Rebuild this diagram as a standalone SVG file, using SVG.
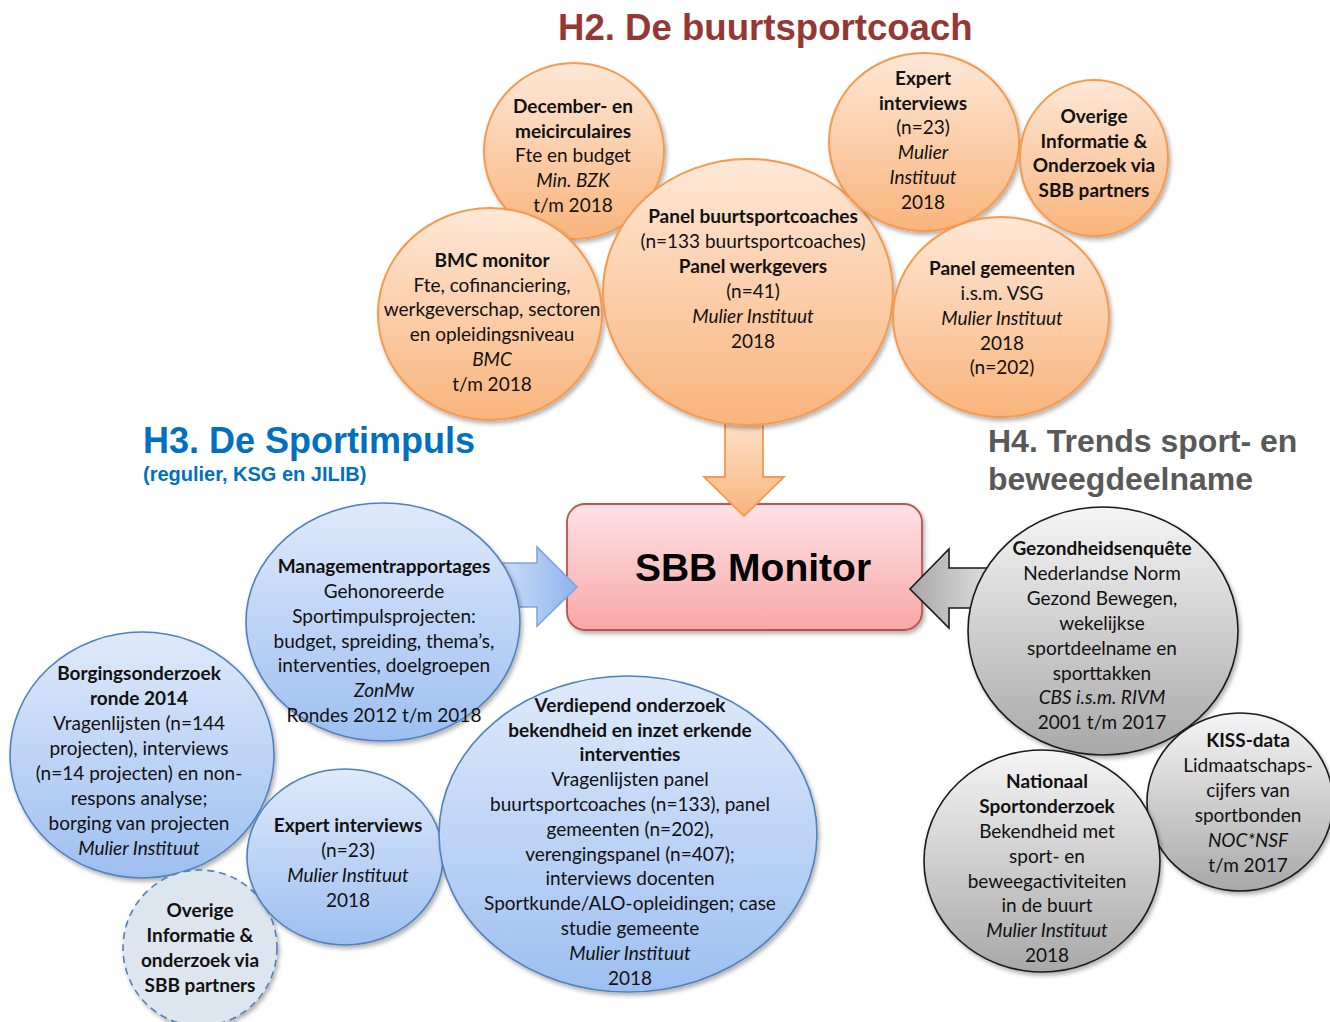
<svg xmlns="http://www.w3.org/2000/svg" width="1330" height="1022" viewBox="0 0 1330 1022">
<defs>
<linearGradient id="gO" x1="0" y1="0" x2="0" y2="1"><stop offset="0" stop-color="#fee8d7"/><stop offset="1" stop-color="#f9b47c"/></linearGradient>
<linearGradient id="gB" x1="0" y1="0" x2="0" y2="1"><stop offset="0" stop-color="#dfeafb"/><stop offset="1" stop-color="#9dbff0"/></linearGradient>
<linearGradient id="gG" x1="0" y1="0" x2="0" y2="1"><stop offset="0" stop-color="#f5f5f5"/><stop offset="1" stop-color="#a8a8a8"/></linearGradient>
<linearGradient id="gR" x1="0" y1="0" x2="0" y2="1"><stop offset="0" stop-color="#fde3e6"/><stop offset="1" stop-color="#f9a6a6"/></linearGradient>
<linearGradient id="gBA" x1="0" y1="0" x2="1" y2="0"><stop offset="0" stop-color="#dfeafb"/><stop offset="1" stop-color="#8db3ee"/></linearGradient>
<linearGradient id="gGA" x1="1" y1="0" x2="0" y2="0"><stop offset="0" stop-color="#e6e6e6"/><stop offset="1" stop-color="#a6a6a6"/></linearGradient>
<filter id="sh" x="-10%" y="-10%" width="125%" height="125%"><feDropShadow dx="2" dy="3" stdDeviation="2" flood-color="#000" flood-opacity="0.3"/></filter>
<style>
.t{font-family:Lato,"Liberation Sans",sans-serif;font-size:19px;text-anchor:middle;fill:#111}
.b{font-weight:bold}
.i{font-style:italic}
.o{fill:url(#gO);stroke:#f59a4f;stroke-width:2;filter:url(#sh)}
.bl{fill:url(#gB);stroke:#4f81bd;stroke-width:1.6;filter:url(#sh)}
.gr{fill:url(#gG);stroke:#1a1a1a;stroke-width:1.6;filter:url(#sh)}
.h{font-family:"Liberation Sans",Arial,sans-serif;font-weight:bold}
</style>
</defs>
<rect width="1330" height="1022" fill="#fff"/>

<g id="headings">
<text class="h" x="558" y="40" font-size="36.6" fill="#953735">H2. De buurtsportcoach</text>
<text class="h" x="143" y="453" font-size="36" fill="#0070c0">H3. De Sportimpuls</text>
<text class="h" x="143" y="481" font-size="20" fill="#0070c0">(regulier, KSG en JILIB)</text>
<text class="h" x="988" y="452" font-size="32" fill="#595959">H4. Trends sport- en</text>
<text class="h" x="988" y="490" font-size="32" fill="#595959">beweegdeelname</text>
</g>

<g id="sbb-monitor">
<rect x="567" y="504" width="355" height="126" rx="18" fill="url(#gR)" stroke="#c0504d" stroke-width="1.8" filter="url(#sh)"/>
<text class="h" x="753" y="581" font-size="39" text-anchor="middle" fill="#000">SBB Monitor</text>
</g>

<g id="connectors">
<path d="M725,405 L763,405 L763,477 L784,477 L744,516 L704,477 L725,477 Z" fill="url(#gO)" stroke="#f59a4f" stroke-width="1.8"/>
<path d="M480,563 L537,563 L537,547 L577,587 L537,626 L537,607 L480,607 Z" fill="url(#gBA)" stroke="#7ea6de" stroke-width="1.6"/>
<path d="M1000,568 L949,568 L949,549 L910,589 L949,628 L949,608 L1000,608 Z" fill="url(#gGA)" stroke="#1a1a1a" stroke-width="1.6"/>
</g>

<g id="n-december">
<ellipse class="o" cx="574" cy="151" rx="90" ry="88"/>
<text class="t"><tspan class="b" x="573" y="113">December- en</tspan><tspan class="b" x="573" y="138">meicirculaires</tspan><tspan x="573" y="162">Fte en budget</tspan><tspan class="i" x="573" y="187">Min. BZK</tspan><tspan x="573" y="212">t/m 2018</tspan></text>
</g>

<g id="n-bmc">
<ellipse class="o" cx="490" cy="314" rx="112" ry="106"/>
<text class="t"><tspan class="b" x="492" y="267">BMC monitor</tspan><tspan x="492" y="292">Fte, cofinanciering,</tspan><tspan x="492" y="316">werkgeverschap, sectoren</tspan><tspan x="492" y="341">en opleidingsniveau</tspan><tspan class="i" x="492" y="366">BMC</tspan><tspan x="492" y="391">t/m 2018</tspan></text>
</g>

<g id="n-panel-bsc">
<ellipse class="o" cx="748" cy="292" rx="145" ry="133"/>
<text class="t"><tspan class="b" x="753" y="223">Panel buurtsportcoaches</tspan><tspan x="753" y="248">(n=133 buurtsportcoaches)</tspan><tspan class="b" x="753" y="273">Panel werkgevers</tspan><tspan x="753" y="298">(n=41)</tspan><tspan class="i" x="753" y="323">Mulier Instituut</tspan><tspan x="753" y="348">2018</tspan></text>
</g>

<g id="n-expert-orange">
<ellipse class="o" cx="924" cy="142" rx="95" ry="89"/>
<text class="t"><tspan class="b" x="923" y="85">Expert</tspan><tspan class="b" x="923" y="110">interviews</tspan><tspan x="923" y="134">(n=23)</tspan><tspan class="i" x="923" y="159">Mulier</tspan><tspan class="i" x="923" y="184">Instituut</tspan><tspan x="923" y="209">2018</tspan></text>
</g>

<g id="n-overige-orange">
<ellipse class="o" cx="1094" cy="158" rx="74" ry="78"/>
<text class="t"><tspan class="b" x="1094" y="123">Overige</tspan><tspan class="b" x="1094" y="148">Informatie &amp;</tspan><tspan class="b" x="1094" y="172">Onderzoek via</tspan><tspan class="b" x="1094" y="197">SBB partners</tspan></text>
</g>

<g id="n-panel-gem">
<ellipse class="o" cx="1001" cy="317" rx="108" ry="100"/>
<text class="t"><tspan class="b" x="1002" y="275">Panel gemeenten</tspan><tspan x="1002" y="300">i.s.m. VSG</tspan><tspan class="i" x="1002" y="325">Mulier Instituut</tspan><tspan x="1002" y="350">2018</tspan><tspan x="1002" y="374">(n=202)</tspan></text>
</g>

<g id="n-borging">
<ellipse class="bl" cx="142" cy="755" rx="132" ry="123"/>
<text class="t"><tspan class="b" x="139" y="680">Borgingsonderzoek</tspan><tspan class="b" x="139" y="705">ronde 2014</tspan><tspan x="139" y="730">Vragenlijsten (n=144</tspan><tspan x="139" y="755">projecten), interviews</tspan><tspan x="139" y="780">(n=14 projecten) en non-</tspan><tspan x="139" y="805">respons analyse;</tspan><tspan x="139" y="830">borging van projecten</tspan><tspan class="i" x="139" y="855">Mulier Instituut</tspan></text>
</g>

<g id="n-overige-blue">
<ellipse cx="200" cy="948" rx="77" ry="78" fill="#dde5ee" stroke="#4f81bd" stroke-width="1.6" stroke-dasharray="7 5" filter="url(#sh)"/>
<text class="t"><tspan class="b" x="200" y="917">Overige</tspan><tspan class="b" x="200" y="942">Informatie &amp;</tspan><tspan class="b" x="200" y="967">onderzoek via</tspan><tspan class="b" x="200" y="992">SBB partners</tspan></text>
</g>

<g id="n-management">
<ellipse class="bl" cx="383" cy="622" rx="137" ry="119"/>
<text class="t"><tspan class="b" x="384" y="573">Managementrapportages</tspan><tspan x="384" y="598">Gehonoreerde</tspan><tspan x="384" y="623">Sportimpulsprojecten:</tspan><tspan x="384" y="648">budget, spreiding, thema’s,</tspan><tspan x="384" y="672">interventies, doelgroepen</tspan><tspan class="i" x="384" y="697">ZonMw</tspan><tspan x="384" y="722">Rondes 2012 t/m 2018</tspan></text>
</g>

<g id="n-expert-blue">
<ellipse class="bl" cx="345" cy="857" rx="98" ry="88"/>
<text class="t"><tspan class="b" x="348" y="832">Expert interviews</tspan><tspan x="348" y="857">(n=23)</tspan><tspan class="i" x="348" y="882">Mulier Instituut</tspan><tspan x="348" y="907">2018</tspan></text>
</g>

<g id="n-verdiepend">
<ellipse class="bl" cx="628" cy="834" rx="189" ry="158"/>
<text class="t"><tspan class="b" x="630" y="712">Verdiepend onderzoek</tspan><tspan class="b" x="630" y="737">bekendheid en inzet erkende</tspan><tspan class="b" x="630" y="761">interventies</tspan><tspan x="630" y="786">Vragenlijsten panel</tspan><tspan x="630" y="811">buurtsportcoaches (n=133), panel</tspan><tspan x="630" y="836">gemeenten (n=202),</tspan><tspan x="630" y="861">verengingspanel (n=407);</tspan><tspan x="630" y="885">interviews docenten</tspan><tspan x="630" y="910">Sportkunde/ALO-opleidingen; case</tspan><tspan x="630" y="935">studie gemeente</tspan><tspan class="i" x="630" y="960">Mulier Instituut</tspan><tspan x="630" y="985">2018</tspan></text>
</g>

<g id="n-gezondheid">
<ellipse class="gr" cx="1103" cy="631" rx="135" ry="124"/>
<text class="t"><tspan class="b" x="1102" y="555">Gezondheidsenquête</tspan><tspan x="1102" y="580">Nederlandse Norm</tspan><tspan x="1102" y="605">Gezond Bewegen,</tspan><tspan x="1102" y="630">wekelijkse</tspan><tspan x="1102" y="655">sportdeelname en</tspan><tspan x="1102" y="680">sporttakken</tspan><tspan class="i" x="1102" y="704">CBS i.s.m. RIVM</tspan><tspan x="1102" y="729">2001 t/m 2017</tspan></text>
</g>

<g id="n-kiss">
<ellipse class="gr" cx="1240" cy="802" rx="93" ry="89"/>
<text class="t"><tspan class="b" x="1248" y="747">KISS-data</tspan><tspan x="1248" y="772">Lidmaatschaps-</tspan><tspan x="1248" y="797">cijfers van</tspan><tspan x="1248" y="822">sportbonden</tspan><tspan class="i" x="1248" y="847">NOC*NSF</tspan><tspan x="1248" y="872">t/m 2017</tspan></text>
</g>

<g id="n-nationaal">
<ellipse class="gr" cx="1042" cy="861" rx="118" ry="111"/>
<text class="t"><tspan class="b" x="1047" y="788">Nationaal</tspan><tspan class="b" x="1047" y="813">Sportonderzoek</tspan><tspan x="1047" y="838">Bekendheid met</tspan><tspan x="1047" y="863">sport- en</tspan><tspan x="1047" y="888">beweegactiviteiten</tspan><tspan x="1047" y="912">in de buurt</tspan><tspan class="i" x="1047" y="937">Mulier Instituut</tspan><tspan x="1047" y="962">2018</tspan></text>
</g>
</svg>
